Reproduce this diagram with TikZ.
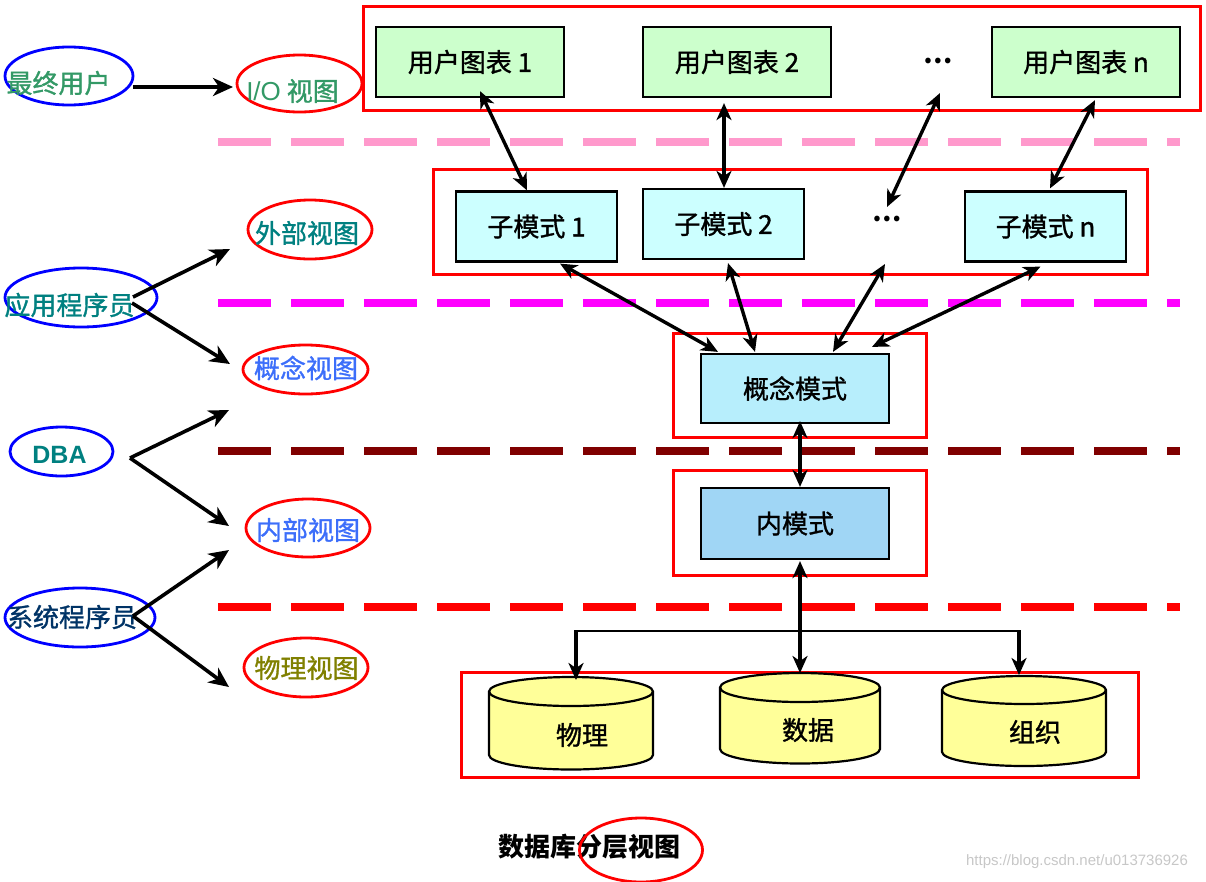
\documentclass[tikz,border=0pt]{standalone}
\usepackage{fontspec}
\setmainfont{Noto Sans CJK SC}
\newfontfamily\wmfont{Liberation Sans}
\newfontfamily\semifont[FakeBold=1.2]{Noto Sans CJK SC}
\usetikzlibrary{arrows.meta,shapes.geometric}
\definecolor{txgreen}{RGB}{51,153,102}
\definecolor{txteal}{RGB}{0,128,128}
\definecolor{txblue}{RGB}{60,110,250}
\definecolor{txdblue}{RGB}{0,51,102}
\definecolor{txolive}{RGB}{128,128,0}
\definecolor{ellblue}{RGB}{0,0,255}
\definecolor{frred}{RGB}{255,0,0}
\definecolor{dpink}{RGB}{255,153,204}
\definecolor{dmag}{RGB}{255,0,255}
\definecolor{ddred}{RGB}{128,0,0}
\definecolor{bgreen}{RGB}{204,255,204}
\definecolor{bcyan}{RGB}{204,255,255}
\definecolor{bconc}{RGB}{183,238,252}
\definecolor{binner}{RGB}{160,214,245}
\definecolor{cylyel}{RGB}{255,255,153}
\begin{document}
\begin{tikzpicture}[x=1pt,y=-1pt,
  lbl/.style={inner sep=0pt,font=\fontsize{26}{30}\selectfont},
  slbl/.style={inner sep=0pt,font=\semifont\fontsize{26}{30}\selectfont},
  roleell/.style={ellipse,draw=ellblue,line width=2.8pt,inner sep=0pt},
  viewell/.style={ellipse,draw=frred,line width=2.8pt,inner sep=0pt},
  frame/.style={draw=frred,line width=3pt},
  boxbase/.style={draw=black,line width=2.2pt,inner sep=0pt,font=\semifont\fontsize{26}{30}\selectfont},
  ucbox/.style={boxbase,fill=bgreen,minimum width=188pt,minimum height=70pt},
  smbox/.style={boxbase,fill=bcyan,minimum width=161pt,minimum height=70pt},
  rolearr/.style={line width=3.6pt,-{Stealth[length=20pt,width=18pt,inset=6pt]}},
  dblarr/.style={line width=3.4pt,{Stealth[length=17pt,width=15pt,inset=5pt]}-{Stealth[length=17pt,width=15pt,inset=5pt]}},
  downarr/.style={line width=3.4pt,-{Stealth[length=17pt,width=15pt,inset=5pt]}},
  dashln/.style={line width=7.5pt,dash pattern=on 53pt off 20pt},
  cyl/.style={draw=black,line width=2.2pt,fill=cylyel}
]
\useasboundingbox (0,0) rectangle (1206,881);

% dashed layer separators
\draw[dashln,dpink] (218,142) -- (1180,142);
\draw[dashln,dmag] (218,303) -- (1180,303);
\draw[dashln,ddred] (218,451) -- (1180,451);
\draw[dashln,frred] (218,607) -- (1180,607);

% left: roles and views
\node[roleell,minimum width=128pt,minimum height=58pt] (eu) at (69,76) {};
\node[slbl,text=txgreen] (eut) at (58.5,83) {最终用户};
\node[viewell,minimum width=125pt,minimum height=57pt] (io) at (299.5,83.5) {};
\node[slbl,text=txgreen] (iot) at (292.5,91) {{\wmfont I/O} 视图};

\node[viewell,minimum width=124pt,minimum height=59pt] (ext) at (310,229.5) {};
\node[slbl,text=txteal] (extt) at (307,233) {外部视图};
\node[roleell,minimum width=152pt,minimum height=59pt] (ap) at (81,297.5) {};
\node[slbl,text=txteal] (apt) at (69.5,305) {应用程序员};
\node[viewell,minimum width=125pt,minimum height=49pt] (cv) at (305.5,369.5) {};
\node[slbl,text=txblue] (cvt) at (306,368) {概念视图};

\node[roleell,minimum width=103pt,minimum height=49pt] (dba) at (61.5,451.5) {};
\node[lbl,text=txteal,font=\wmfont\fontsize{25}{30}\selectfont\bfseries] (dbat) at (59.5,455) {DBA};
\node[viewell,minimum width=124pt,minimum height=58pt] (iv) at (308,528) {};
\node[slbl,text=txblue] (ivt) at (308,530) {内部视图};

\node[roleell,minimum width=150pt,minimum height=59pt] (sp) at (80,617.5) {};
\node[slbl,text=txdblue] (spt) at (72,617) {系统程序员};
\node[viewell,minimum width=124pt,minimum height=59pt] (pv) at (306,667.5) {};
\node[slbl,text=txolive] (pvt) at (306.5,668) {物理视图};

% role arrows
\coordinate (a0s) at (133,87);   \coordinate (a0e) at (233,87);
\coordinate (a1s) at (133,297);  \coordinate (a1e) at (230,249);
\coordinate (a2s) at (132,303);  \coordinate (a2e) at (230,364);
\coordinate (a3s) at (130,458);  \coordinate (a3e) at (229,410);
                                 \coordinate (a4e) at (229,526);
\coordinate (a5s) at (133,616);  \coordinate (a5e) at (229,550);
                                 \coordinate (a6e) at (229,687);
\draw[rolearr] (a0s) -- (a0e);
\draw[rolearr] (a1s) -- (a1e);
\draw[rolearr] (a2s) -- (a2e);
\draw[rolearr] (a3s) -- (a3e);
\draw[rolearr] (a3s) -- (a4e);
\draw[rolearr] (a5s) -- (a5e);
\draw[rolearr] (a5s) -- (a6e);

% frames
\draw[frame] (363,6) rectangle (1200,110);
\draw[frame] (433,169) rectangle (1147,274);
\draw[frame] (673,333) rectangle (926,437);
\draw[frame] (673,470) rectangle (926,575);
\draw[frame] (461,672) rectangle (1138,777);

% user charts
\node[ucbox] (ub1) at (470,62) {用户图表 1};
\node[ucbox] (ub2) at (737,62) {用户图表 2};
\node[lbl,font=\fontsize{26}{30}\selectfont\bfseries] (d1) at (938,61) {…};
\node[ucbox] (ubn) at (1086,62) {用户图表 n};

% sub schemas
\node[smbox] (sm1) at (536.5,226.5) {子模式 1};
\node[smbox] (sm2) at (723.5,224) {子模式 2};
\node[lbl,font=\fontsize{26}{30}\selectfont\bfseries] (d2) at (887,219) {…};
\node[smbox] (smn) at (1045.5,226.5) {子模式 n};

% conceptual / internal
\node[boxbase,fill=bconc,minimum width=188pt,minimum height=69pt] (cm) at (795,388.5) {概念模式};
\node[boxbase,fill=binner,minimum width=188pt,minimum height=71pt] (im) at (795,523.5) {内模式};

% cylinders
\draw[cyl] (489,691.5) -- (489,755) arc[start angle=180,end angle=0,x radius=82,y radius=14.5] -- (653,691.5) arc[start angle=0,end angle=-180,x radius=82,y radius=14.5] -- cycle;
\draw[line width=2.2pt] (489,691.5) arc[start angle=180,end angle=0,x radius=82,y radius=14.5];
\draw[cyl] (720,687.5) -- (720,749) arc[start angle=180,end angle=0,x radius=80,y radius=14.5] -- (880,687.5) arc[start angle=0,end angle=-180,x radius=80,y radius=14.5] -- cycle;
\draw[line width=2.2pt] (720,687.5) arc[start angle=180,end angle=0,x radius=80,y radius=14.5];
\draw[cyl] (942,690) -- (942,752) arc[start angle=180,end angle=0,x radius=82,y radius=14] -- (1106,690) arc[start angle=0,end angle=-180,x radius=82,y radius=14] -- cycle;
\draw[line width=2.2pt] (942,690) arc[start angle=180,end angle=0,x radius=82,y radius=14];
\node[slbl] (c1t) at (582,735) {物理};
\node[slbl] (c2t) at (808,730) {数据};
\node[slbl] (c3t) at (1035,732) {组织};
\coordinate (c1top) at (576,680);
\coordinate (c2top) at (800,673);
\coordinate (c3top) at (1019,675);

% schema arrows
\draw[dblarr] ([xshift=10pt,yshift=7pt]ub1.south) -- ([xshift=-9.5pt]sm1.north);
\draw[dblarr] ([xshift=-13pt,yshift=-5pt]ub2.south) -- ([xshift=0.5pt]sm2.north);
\draw[dblarr] ([xshift=2pt,yshift=-32pt]d1.center) -- ([yshift=12pt]d2.center);
\draw[dblarr] ([xshift=9pt,yshift=-2pt]ubn.south) -- ([xshift=4.5pt,yshift=2pt]smn.north);
\draw[dblarr] ([xshift=23.5pt,yshift=-1pt]sm1.south) -- ([xshift=-77pt,yshift=1pt]cm.north);
\draw[dblarr] ([xshift=4.5pt,yshift=-3pt]sm2.south) -- ([xshift=-40pt,yshift=1pt]cm.north);
\draw[dblarr] ([xshift=-2pt,yshift=-45pt]d2.center) -- ([xshift=38pt,yshift=1pt]cm.north);
\draw[dblarr] ([xshift=-5pt,yshift=-4pt]smn.south) -- ([xshift=77pt,yshift=6pt]cm.north);
\draw[dblarr] ([xshift=5pt,yshift=3pt]cm.south) -- ([xshift=5pt]im.north);
\draw[dblarr] ([xshift=5pt,yshift=-1pt]im.south) -- (c2top);

% branch to cylinders
\coordinate (brl) at (576,631);
\coordinate (brr) at (1019,631);
\draw[line width=2pt] (brl) -- (brr);
\draw[downarr] ([yshift=1pt]brl) -- (c1top);
\draw[downarr] ([yshift=1pt]brr) -- (c3top);

% caption
\node[lbl,font=\fontsize{26}{30}\selectfont\bfseries] (cap) at (589.5,847) {数据库分层视图};
\node[viewell,minimum width=123pt,minimum height=64pt] (capell) at (641,850) {};

% watermark
\node[inner sep=0pt,text=black!22,font=\wmfont\fontsize{15}{18}\selectfont] (wm) at (1077,862) {https://blog.csdn.net/u013736926};
\end{tikzpicture}
\end{document}
